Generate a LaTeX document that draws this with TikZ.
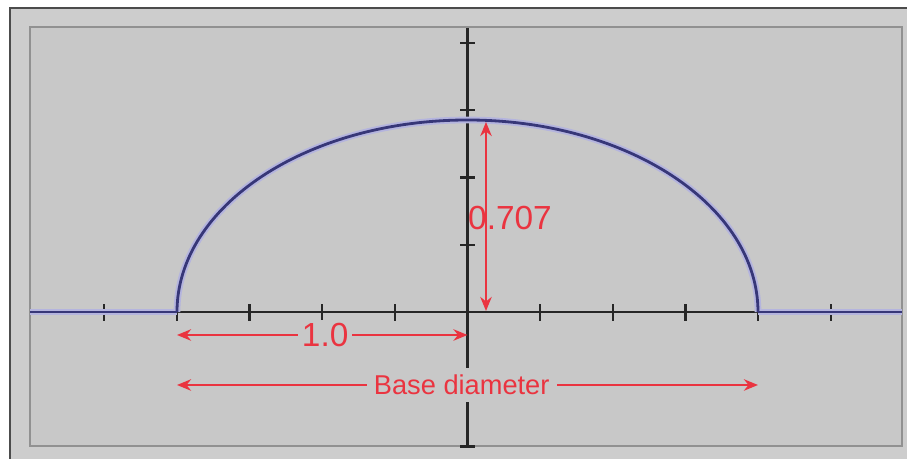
\documentclass[tikz,border=0pt]{standalone}
\usepackage{fontspec}
\setmainfont{Liberation Sans}
\usetikzlibrary{arrows, arrows.meta, positioning}

\definecolor{outergray}{RGB}{205,205,205}
\definecolor{panelgray}{RGB}{200,200,200}
\definecolor{bevel}{RGB}{145,145,145}
\definecolor{dimred}{RGB}{234,52,64}
\definecolor{profile}{RGB}{55,55,120}
\definecolor{halo}{RGB}{180,180,222}

\tikzset{
  axis/.style={black!85, line width=1.6pt},
  tick/.style={black!85, line width=1.3pt},
  drop/.style={profile, line width=1.6pt},
  dropglow/.style={halo, line width=3.8pt},
  dim/.style={<->, dimred, line width=1.3pt},
  dimlabel/.style={text=dimred, inner sep=2pt, font=\fontsize{19}{22}\selectfont},
}

\begin{document}
\begin{tikzpicture}[x=0.02cm, y=0.02cm, >={Stealth[length=8pt,width=6.5pt]}]
    \useasboundingbox (0,0) rectangle (907,459);

    % window frame and plot panel
    \fill[white] (0,0) rectangle (907,459);
    \filldraw[fill=outergray, draw=black!70, line width=1pt] (10,-10) rectangle (920,451);
    \filldraw[fill=panelgray, draw=bevel, line width=1.4pt] (30,13) rectangle (902,432);

    \coordinate (O) at (467.5,147);
    \coordinate (L) at (177,147);
    \coordinate (R) at (758,147);
    \coordinate (T) at (467.5,339);
    \coordinate (axW) at (30,147);
    \coordinate (axE) at (902,147);
    \coordinate (axN) at (467.5,431);
    \coordinate (axS) at (467.5,13);

    % axes and ticks
    \draw[axis] (axW) -- (axE);
    \draw[axis] (axN) -- (axS);
    \draw[axis, line width=2.2pt] (467.5,121) -- (467.5,90);
    \foreach \i in {-5,...,5}
      \draw[tick] (467.5+72.7*\i,138) -- ++(0,17);
    \foreach \j in {-2,-1,1,2,3,4}
      \draw[tick] (460,147+67.3*\j) -- ++(15,0);

    % drop profile
    \draw[dropglow] (axW) -- (L);
    \draw[dropglow] (R) -- (axE);
    \draw[dropglow] (L) arc[start angle=180, end angle=0, x radius=290.5, y radius=192];
    \draw[drop] (axW) -- (L);
    \draw[drop] (R) -- (axE);
    \draw[drop] (L) arc[start angle=180, end angle=0, x radius=290.5, y radius=192];

    % dimensions
    \coordinate (hb) at (486,148);
    \coordinate (ht) at (486,337);
    \coordinate (rl) at (177,124);
    \coordinate (rr) at (467.5,124);
    \coordinate (bl) at (177,74);
    \coordinate (br) at (758,74);

    \draw[dim] (hb) -- (ht);
    \node[dimlabel] (hgt) at (510,241) {0.707};
    \draw[dim] (rl) -- node[dimlabel, fill=panelgray, pos=0.51] (rad) {1.0} (rr);
    \draw[dim] (bl) -- node[dimlabel, fill=panelgray, pos=0.49, font=\fontsize{15.5}{18}\selectfont, inner sep=4pt] (base) {Base diameter} (br);
  \end{tikzpicture}
\end{document}
